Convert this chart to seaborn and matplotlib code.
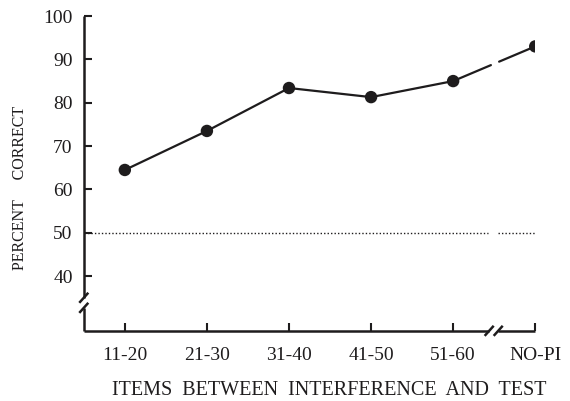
import numpy as np
import pandas as pd
import matplotlib
matplotlib.use('Agg')
import matplotlib.pyplot as plt
import seaborn as sns

categories = ['11-20', '21-30', '31-40', '41-50', '51-60', 'NO-PI']
percent_correct = [64.5, 73.5, 83.4, 81.3, 85.0, 93.0]
y_ticks = [40, 50, 60, 70, 80, 90, 100]
chance = 50

df = pd.DataFrame({'pos': np.arange(len(categories)), 'pc': percent_correct})

sns.set_style('ticks')
plt.rcParams['font.family'] = ['Liberation Serif', 'DejaVu Serif']
ink = '#1e1c1d'

fig = plt.figure(figsize=(5.7, 4.01), dpi=100)
ax = fig.add_axes([0.147, 0.175, 0.792, 0.785])

# main line through the grouped conditions
sns.lineplot(data=df.iloc[:5], x='pos', y='pc', color=ink, linewidth=1.6, ax=ax)
# broken connection to NO-PI
x4, x5 = df.pos[4], df.pos[5]
y4, y5 = df.pc[4], df.pc[5]
for a, b in [(0, 0.46), (0.56, 1)]:
    ax.plot([x4 + a * (x5 - x4), x4 + b * (x5 - x4)],
            [y4 + a * (y5 - y4), y4 + b * (y5 - y4)], color=ink, lw=1.6)
sns.scatterplot(data=df, x='pos', y='pc', color=ink, s=80, edgecolor='none', ax=ax, zorder=5)

# chance level
ax.hlines(chance, -0.5, 4.43, colors=ink, linestyles=(0, (1, 1.5)), lw=1)
ax.hlines(chance, 4.55, 5.0, colors=ink, linestyles=(0, (1, 1.5)), lw=1)

ax.set_xlim(-0.5, 5.0)
ax.set_ylim(27.4, 100)
ax.set_xticks(df.pos)
ax.set_xticklabels(categories)
ax.set_yticks(y_ticks)
ax.tick_params(direction='in', length=6, width=1.5, labelsize=14, colors=ink, pad=12)
ax.tick_params(axis='y', pad=8)

for s in ['top', 'right', 'left', 'bottom']:
    ax.spines[s].set_visible(False)

# axes drawn by hand with breaks
k = dict(color=ink, lw=1.8, transform=ax.transAxes, clip_on=False, solid_capstyle='butt')
ax.plot([0, 0], [1, 0.105], **k)
ax.plot([0, 0], [0.073, 0], **k)
ax.plot([-0.01, 0.01], [0.089, 0.121], **k)
ax.plot([-0.01, 0.01], [0.057, 0.089], **k)
ax.plot([0, 0.898], [0, 0], **k)
ax.plot([0.918, 1.0], [0, 0], **k)
ax.plot([0.888, 0.908], [-0.016, 0.016], **k)
ax.plot([0.908, 0.928], [-0.016, 0.016], **k)

ax.set_xlabel('ITEMS  BETWEEN  INTERFERENCE  AND  TEST', fontsize=14.5, color=ink)
ax.xaxis.set_label_coords(0.543, -0.16)
ax.set_ylabel('PERCENT     CORRECT', fontsize=11.5, color=ink)
ax.yaxis.set_label_coords(-0.124, 0.454)

fig.savefig('out.png', dpi=100)
